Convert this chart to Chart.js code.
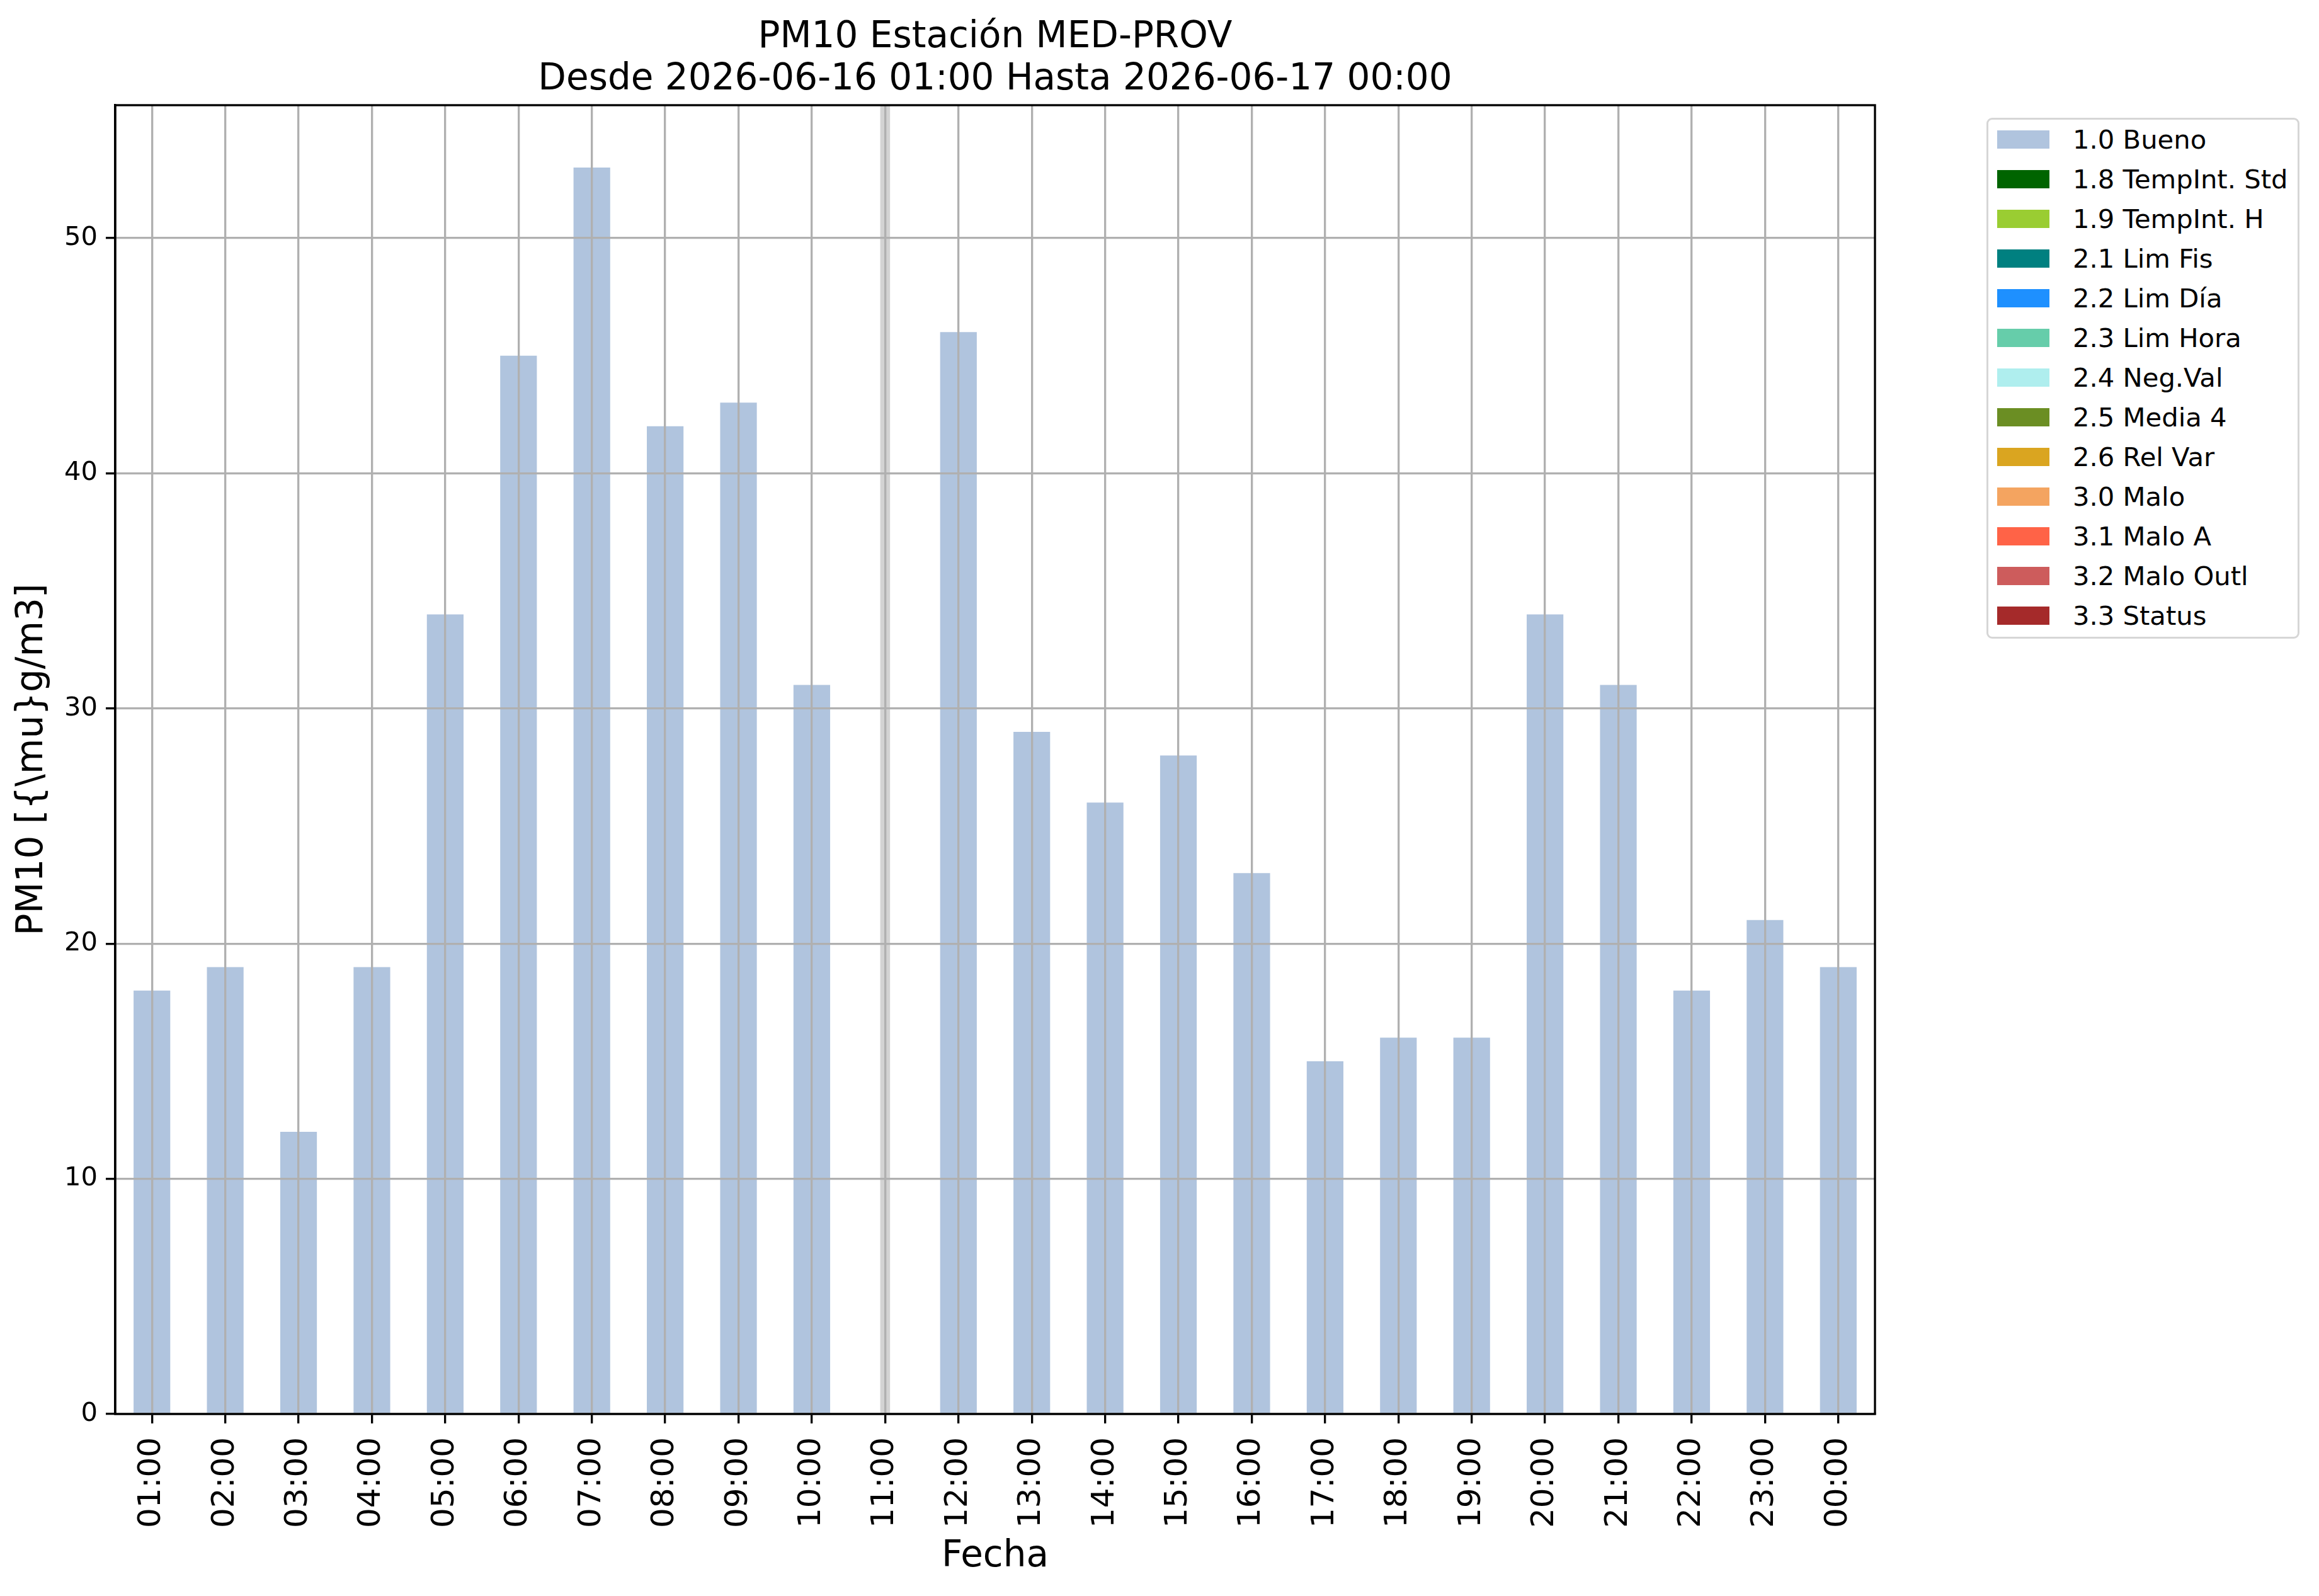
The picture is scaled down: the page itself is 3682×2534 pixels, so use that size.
<!DOCTYPE html>
<html>
<head>
<meta charset="utf-8">
<script src="https://cdn.jsdelivr.net/npm/chart.js@4/dist/chart.umd.min.js"></script>
<style>
html,body{margin:0;padding:0;background:#fff;}
#wrap{position:relative;width:3682px;height:2534px;overflow:hidden;background:#fff;}
#c{position:absolute;left:0;top:0;width:3682px;height:2534px;}
#legend{position:absolute;left:3154px;top:187px;width:497px;height:827px;box-sizing:border-box;border:3.3px solid #d6d6d6;border-radius:9px;background:#fff;}
.sw{position:absolute;left:13.7px;width:83px;height:29px;}
.lb{position:absolute;left:134px;font-family:"DejaVu Sans";font-size:41.7px;line-height:42px;height:42px;white-space:nowrap;color:#000;}
</style>
</head>
<body>
<div id="wrap">
<canvas id="c" width="3682" height="2534"></canvas>
<div id="legend"></div>
</div>
<script>
// ---- data ----
const hours = ['01:00','02:00','03:00','04:00','05:00','06:00','07:00','08:00','09:00','10:00','11:00','12:00',
               '13:00','14:00','15:00','16:00','17:00','18:00','19:00','20:00','21:00','22:00','23:00','00:00'];
const pm10 = [18,19,12,19,34,45,53,42,43,31,null,46,29,26,28,23,15,16,16,34,31,18,21,19];
const gapHours = ['11:00'];
const yTicks = [0,10,20,30,40,50];
const flagLabels = ['1.0 Bueno','1.8 TempInt. Std','1.9 TempInt. H','2.1 Lim Fis','2.2 Lim Día','2.3 Lim Hora',
                    '2.4 Neg.Val','2.5 Media 4','2.6 Rel Var','3.0 Malo','3.1 Malo A','3.2 Malo Outl','3.3 Status'];
const flagColors = ['#b0c4de','#006400','#9acd32','#008080','#1e90ff','#66cdaa',
                    '#afeeee','#6b8e23','#daa520','#f4a460','#ff6347','#cd5c5c','#a52a2a'];
const titleLines = ['PM10 Estación MED-PROV','Desde 2026-06-16 01:00 Hasta 2026-06-17 00:00'];
const yTitle = 'PM10 [{\\mu}g/m3]';
const xTitle = 'Fecha';

// ---- legend (HTML) ----
const leg = document.getElementById('legend');
flagLabels.forEach((lab, i) => {
  const cy = 221.5 + 63 * i - 187 - 3.3; // row centre inside the box
  const sw = document.createElement('div');
  sw.className = 'sw';
  sw.style.top = (cy - 14.5) + 'px';
  sw.style.background = flagColors[i];
  leg.appendChild(sw);
  const lb = document.createElement('div');
  lb.className = 'lb';
  lb.style.top = (cy + 15.5 - 35.5) + 'px';
  lb.textContent = lab;
  leg.appendChild(lb);
});

const FONT = '"DejaVu Sans"';
const LW = 3.33;

const bandPlugin = {
  id: 'gapBand',
  beforeDatasetsDraw(chart) {
    const {ctx, chartArea: a, scales: {x}} = chart;
    ctx.save();
    ctx.fillStyle = '#d3d3d3';
    gapHours.forEach(h => {
      const px = x.getPixelForValue(hours.indexOf(h));
      ctx.fillRect(px - 7.8, a.top, 15.6, a.bottom - a.top);
    });
    ctx.restore();
  }
};

const framePlugin = {
  id: 'frameTitle',
  afterDraw(chart) {
    const {ctx, chartArea: a} = chart;
    ctx.save();
    ctx.strokeStyle = '#000';
    ctx.lineWidth = LW;
    ctx.strokeRect(a.left, a.top, a.right - a.left, a.bottom - a.top);
    ctx.fillStyle = '#000';
    ctx.font = '58px ' + FONT;
    ctx.textAlign = 'center';
    ctx.textBaseline = 'alphabetic';
    const cx = (a.left + a.right) / 2;
    ctx.fillText(titleLines[0], cx, 75);
    ctx.fillText(titleLines[1], cx, 142);
    ctx.restore();
  }
};

new Chart(document.getElementById('c'), {
  type: 'bar',
  data: {
    labels: hours,
    datasets: [{
      label: flagLabels[0],
      data: pm10,
      backgroundColor: flagColors[0],
      borderWidth: 0,
      barPercentage: 0.5,
      categoryPercentage: 1.0
    }]
  },
  options: {
    responsive: false,
    devicePixelRatio: 1,
    animation: false,
    layout: {padding: {left: 0, top: 167, right: 705, bottom: 0}},
    plugins: {legend: {display: false}, title: {display: false}, tooltip: {enabled: false}},
    scales: {
      x: {
        type: 'category',
        offset: true,
        grid: {display: true, z: 1, offset: false, color: '#b0b0b0', lineWidth: LW,
               drawTicks: true, tickLength: 15, tickColor: '#000', tickWidth: LW},
        border: {display: true, z: 1, color: '#000', width: LW},
        ticks: {z: 1, color: '#000', font: {family: FONT, size: 50}, minRotation: 90, maxRotation: 90,
                autoSkip: false, padding: 22},
        title: {display: true, text: xTitle, color: '#000', font: {family: FONT, size: 58, lineHeight: 1.2},
                padding: {top: 0, bottom: 27}},
        afterFit(s) { s.height = 2534 - 2245; }
      },
      y: {
        type: 'linear',
        min: 0,
        max: 55.65,
        grid: {display: true, z: 1, color: '#b0b0b0', lineWidth: LW,
               drawTicks: true, tickLength: 15, tickColor: '#000', tickWidth: LW},
        border: {display: true, z: 1, color: '#000', width: LW},
        ticks: {z: 1, color: '#000', font: {family: FONT, size: 41.7}, padding: 13},
        afterBuildTicks(s) { s.ticks = yTicks.map(v => ({value: v})); },
        title: {display: true, text: yTitle, color: '#000', font: {family: FONT, size: 58, lineHeight: 1.2},
                padding: {top: 17, bottom: 0}},
        afterFit(s) { s.width = 183; }
      }
    }
  },
  plugins: [bandPlugin, framePlugin]
});
</script>
</body>
</html>
